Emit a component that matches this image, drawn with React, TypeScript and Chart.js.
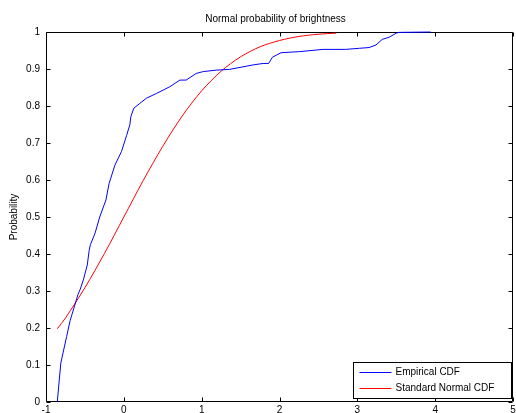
import React, { useEffect, useRef } from "react";
import { Chart, registerables } from "chart.js";

Chart.register(...registerables);

const TITLE = "Normal probability of brightness";
const Y_LABEL = "Probability";
const SERIES_NAMES = ["Empirical CDF", "Standard Normal CDF"];

const empiricalX = [
  -0.855, -0.81, -0.735, -0.69, -0.59, -0.56, -0.52, -0.47, -0.445, -0.43, -0.37, -0.31, -0.23,
  -0.19, -0.115, -0.03, 0.035, 0.077, 0.09, 0.128, 0.205, 0.29, 0.42, 0.59, 0.72, 0.8, 0.93,
  1.02, 1.19, 1.36, 1.66, 1.79, 1.86, 1.91, 2.02, 2.26, 2.56, 2.85, 3.03, 3.15, 3.24, 3.32,
  3.41, 3.5, 3.54, 3.94,
];
const empiricalY = [
  0, 0.105, 0.177, 0.22, 0.29, 0.305, 0.33, 0.37, 0.41, 0.425, 0.456, 0.5, 0.546,
  0.59, 0.64, 0.677, 0.72, 0.749, 0.771, 0.794, 0.807, 0.821, 0.834, 0.852, 0.87, 0.87, 0.888,
  0.893, 0.897, 0.899, 0.911, 0.915, 0.915, 0.932, 0.944, 0.947, 0.953, 0.953, 0.956, 0.958, 0.965, 0.98,
  0.986, 0.997, 0.999, 1.0,
];

const normalX = [
  -0.855, -0.75, -0.5, -0.25, 0, 0.25, 0.5, 0.75, 1, 1.25, 1.5, 1.75, 2, 2.25, 2.5, 2.73,
];
const normalY = [
  0.198, 0.227, 0.309, 0.401, 0.5, 0.599, 0.691, 0.773, 0.841, 0.894, 0.933, 0.96, 0.977,
  0.988, 0.994, 0.997,
];

const X_MIN = -1;
const X_MAX = 5;
const Y_MIN = 0;
const Y_MAX = 1;

const FONT = '"Liberation Sans", Arial, Helvetica, sans-serif';

const framePlugin = {
  id: "matlabFrame",
  beforeDatasetsDraw(chart: any) {
    const { ctx, chartArea } = chart;
    const { left, right, top, bottom } = chartArea;
    const L = Math.round(left) + 0.5;
    const R = Math.round(right) - 0.5;
    const T = Math.round(top) + 0.5;
    const B = Math.round(bottom) - 0.5;
    ctx.save();
    ctx.strokeStyle = "#000";
    ctx.lineWidth = 1;
    ctx.beginPath();
    ctx.rect(L, T, R - L, B - T);
    ctx.stroke();

    const tl = 4;
    const xs = chart.scales.x;
    const ys = chart.scales.y;
    ctx.beginPath();
    xs.ticks.forEach((t: any) => {
      const px = Math.round(xs.getPixelForValue(t.value)) + 0.5;
      ctx.moveTo(px, B);
      ctx.lineTo(px, B - tl);
      ctx.moveTo(px, T);
      ctx.lineTo(px, T + tl);
    });
    ys.ticks.forEach((t: any) => {
      const py = Math.round(ys.getPixelForValue(t.value)) + 0.5;
      ctx.moveTo(L, py);
      ctx.lineTo(L + tl, py);
      ctx.moveTo(R, py);
      ctx.lineTo(R - tl, py);
    });
    ctx.stroke();
    ctx.restore();
  },
  afterDraw(chart: any) {
    const { ctx, chartArea } = chart;
    const { left, right, bottom } = chartArea;
    ctx.save();
    ctx.lineWidth = 1;
    // title
    ctx.fillStyle = "#000";
    ctx.font = `10px ${FONT}`;
    ctx.textAlign = "center";
    ctx.textBaseline = "middle";
    ctx.fillText(TITLE, (left + right) / 2 - 4, 19);

    // legend
    const bw = 158;
    const bh = 36;
    const bx = Math.round(right) - 2 - bw + 0.5;
    const by = Math.round(bottom) - 4 - bh + 0.5;
    ctx.fillStyle = "#fff";
    ctx.fillRect(bx, by, bw, bh);
    ctx.strokeStyle = "#000";
    ctx.strokeRect(bx, by, bw, bh);
    chart.data.datasets.forEach((ds: any, i: number) => {
      const ly = Math.round(by + 9.5 + i * 16) + 0.5;
      ctx.strokeStyle = ds.borderColor;
      ctx.beginPath();
      ctx.moveTo(bx + 6, ly);
      ctx.lineTo(bx + 38, ly);
      ctx.stroke();
      ctx.fillStyle = "#000";
      ctx.textAlign = "left";
      ctx.textBaseline = "middle";
      ctx.fillText(ds.label, bx + 42, ly);
    });
    ctx.restore();
  },
};

export default function App() {
  const ref = useRef<HTMLCanvasElement | null>(null);

  useEffect(() => {
    if (!ref.current) return;
    const chart = new Chart(ref.current, {
      type: "scatter",
      data: {
        datasets: [
          {
            label: SERIES_NAMES[0],
            data: empiricalX.map((x, i) => ({ x, y: empiricalY[i] })),
            borderColor: "#0000ff",
            backgroundColor: "#0000ff",
            borderWidth: 1,
            showLine: true,
            pointRadius: 0,
            tension: 0,
            clip: 3,
          },
          {
            label: SERIES_NAMES[1],
            data: normalX.map((x, i) => ({ x, y: normalY[i] })),
            borderColor: "#ff0000",
            backgroundColor: "#ff0000",
            borderWidth: 1,
            showLine: true,
            pointRadius: 0,
            tension: 0.3,
            clip: 3,
          },
        ],
      },
      options: {
        animation: false,
        responsive: false,
        maintainAspectRatio: false,
        devicePixelRatio: 1,
        layout: { padding: { left: 0, right: 3, top: 32, bottom: 0 } },
        plugins: {
          legend: { display: false },
          title: { display: false },
          tooltip: { enabled: false },
        },
        scales: {
          x: {
            type: "linear",
            min: X_MIN,
            max: X_MAX,
            grid: { display: false, drawTicks: false },
            border: { display: false },
            ticks: {
              stepSize: 1,
              padding: 2,
              color: "#000",
              font: { family: FONT, size: 10 },
              maxRotation: 0,
              autoSkip: false,
            },
            afterFit(scale: any) {
              scale.height = 11;
              scale.paddingLeft = 0;
              scale.paddingRight = 0;
            },
          },
          y: {
            type: "linear",
            min: Y_MIN,
            max: Y_MAX,
            grid: { display: false, drawTicks: false },
            border: { display: false },
            ticks: {
              stepSize: 0.1,
              padding: 6,
              color: "#000",
              font: { family: FONT, size: 10 },
              autoSkip: false,
              callback: (v: any) => String(Number(Number(v).toFixed(1))),
            },
            title: {
              display: true,
              text: Y_LABEL,
              color: "#000",
              font: { family: FONT, size: 10 },
              padding: { top: 8, bottom: 0 },
            },
            afterFit(scale: any) {
              scale.width = 46;
              scale.paddingTop = 0;
              scale.paddingBottom = 0;
            },
          },
        },
      },
      plugins: [framePlugin],
    });
    return () => chart.destroy();
  }, []);

  return (
    <div style={{ position: "fixed", left: 0, top: 0, width: 516, height: 413, background: "#fff" }}>
      <canvas ref={ref} width={516} height={413} style={{ width: 516, height: 413, display: "block" }} />
    </div>
  );
}
